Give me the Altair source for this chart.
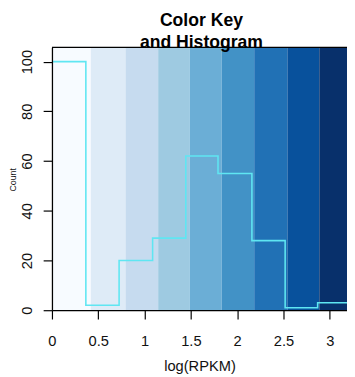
import altair as alt
import pandas as pd

FONT = "Liberation Sans"

# Colour key bands (break values on log(RPKM) axis) and their colours
band_edges = [0.0, 0.42, 0.794, 1.147, 1.487, 1.832, 2.184, 2.542, 2.887, 3.25]
band_colors = ["#F7FBFF", "#DEEBF7", "#C6DBEF", "#9ECAE1", "#6BAED6",
               "#4292C6", "#2171B5", "#08519C", "#08306B"]

# Histogram bin edges and counts
hist_edges = [0.0, 0.366, 0.725, 1.087, 1.445, 1.793, 2.159, 2.518, 2.869, 3.25]
hist_counts = [100, 2, 20, 29, 62, 55, 28, 1, 3]

x_ticks = [0, 0.5, 1, 1.5, 2, 2.5, 3]
y_ticks = [0, 20, 40, 60, 80, 100]

X_DOMAIN = [0, 3.186]
Y_DOMAIN = [0, 105.7]

bands = pd.DataFrame({"x0": band_edges[:-1], "x1": band_edges[1:], "color": band_colors})
steps = pd.DataFrame({"x": hist_edges, "count": hist_counts + [hist_counts[-1]]})
top = pd.DataFrame({"t": [Y_DOMAIN[1]]})

xscale = alt.Scale(domain=X_DOMAIN, nice=False, zero=False)
yscale = alt.Scale(domain=Y_DOMAIN, nice=False, zero=False)

x_axis = alt.Axis(
    values=x_ticks, format=".1~f", title="log(RPKM)", grid=False,
    tickSize=9, tickColor="black", tickWidth=1.2,
    domainColor="black", domainWidth=1.3,
    labelFont=FONT, labelFontSize=15, labelColor="#111", labelPadding=15,
    labelFlush=False, labelOverlap=False,
    titleFont=FONT, titleFontSize=15, titleFontWeight="normal", titleColor="#111",
    titleY=62, titleBaseline="alphabetic", zindex=1,
)
y_axis = alt.Axis(
    values=y_ticks, title="Count", grid=False,
    tickSize=9, tickColor="black", tickWidth=1.2,
    domainColor="black", domainWidth=1.3,
    labelFont=FONT, labelFontSize=15, labelColor="#111", labelAngle=270,
    labelAlign="center", labelBaseline="alphabetic", labelPadding=12,
    labelFlush=False, labelOverlap=False,
    titleFont=FONT, titleFontSize=9, titleFontWeight="normal", titleColor="#111",
    titleAngle=270, titleX=-40, titleY=135, titleAlign="center", titleBaseline="middle",
    zindex=1,
)

band_layer = alt.Chart(bands).mark_rect(clip=True).encode(
    x=alt.X("x0:Q", scale=xscale, axis=x_axis),
    x2="x1",
    y=alt.Y(datum=Y_DOMAIN[0], type="quantitative", scale=yscale, axis=y_axis),
    y2=alt.datum(Y_DOMAIN[1]),
    color=alt.Color("color:N", scale=None),
)

hist_layer = alt.Chart(steps).mark_line(
    interpolate="step-after", color="#5FE6F2", strokeWidth=1.6, clip=True
).encode(
    x=alt.X("x:Q", scale=xscale),
    y=alt.Y("count:Q", scale=yscale),
)

top_layer = alt.Chart(top).mark_rule(color="black", strokeWidth=1.3).encode(
    y=alt.Y("t:Q", scale=yscale),
)

chart = alt.layer(band_layer, hist_layer, top_layer).properties(
    width=302, height=269,
    title=alt.TitleParams(
        ["Color Key", "and Histogram"], font=FONT, fontSize=18, fontWeight="bold",
        color="black", anchor="middle", lineHeight=22, baseline="alphabetic",
        offset=20, dx=2, dy=39,
    ),
    autosize=alt.AutoSizeParams(type="none"),
    padding={"left": 45, "top": 36, "right": 0, "bottom": 64},
).configure_view(stroke=None)

chart.save("out.html", embed_options={"renderer": "svg", "actions": False})
